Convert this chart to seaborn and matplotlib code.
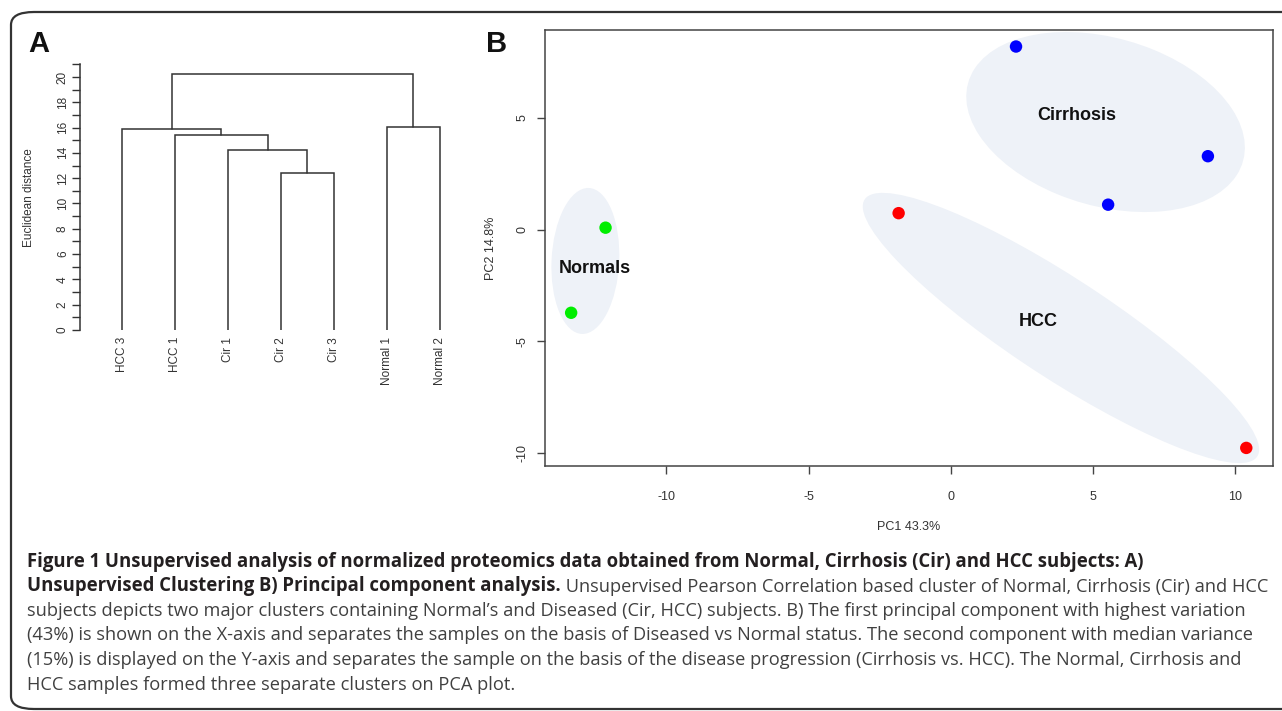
import numpy as np
import pandas as pd
import matplotlib
matplotlib.use("Agg")
import matplotlib.pyplot as plt
import seaborn as sns
from matplotlib.patches import Ellipse, FancyBboxPatch

# ---------------- data ----------------
leaf_labels = ["HCC 3", "HCC 1", "Cir 1", "Cir 2", "Cir 3", "Normal 1", "Normal 2"]
# linkage: (child a, child b, height); leaves 0..6, new nodes 7..
merge_a = [3, 2, 1, 0, 5, 10]
merge_b = [4, 7, 8, 9, 6, 11]
merge_h = [12.37, 14.25, 15.41, 15.86, 16.02, 20.21]
dist_ticks = list(range(0, 22))

sample_group = ["Cirrhosis", "Cirrhosis", "Cirrhosis", "HCC", "HCC", "Normals", "Normals"]
pc1 = [2.30, 9.05, 5.54, -1.83, 10.40, -12.14, -13.35]
pc2 = [8.20, 3.29, 1.12, 0.74, -9.77, 0.09, -3.72]
group_colors = {"Cirrhosis": "#0000FF", "HCC": "#FF0000", "Normals": "#00EE00"}

# cluster ellipses: centre x, centre y, width, height, angle (data units)
ell_name = ["Cirrhosis", "HCC", "Normals"]
ell_cx = [5.45, 3.88, -12.85]
ell_cy = [4.82, -4.40, -1.40]
ell_w = [10.38, 18.0, 2.38]
ell_h = [7.30, 4.1, 6.54]
ell_ang = [-27.6, -40.5, -2.0]
lab_x = [4.43, 3.07, -12.51]
lab_y = [5.09, -4.10, -1.76]

pc_xticks = [-10, -5, 0, 5, 10]
pc_yticks = [-10, -5, 0, 5]

caption_bold_1 = "Figure 1 Unsupervised analysis of normalized proteomics data obtained from Normal, Cirrhosis (Cir) and HCC subjects: A)"
caption_bold_2 = "Unsupervised Clustering B) Principal component analysis."
caption_reg_2 = " Unsupervised Pearson Correlation based cluster of Normal, Cirrhosis (Cir) and HCC"
caption_rest = [
    "subjects depicts two major clusters containing Normal\u2019s and Diseased (Cir, HCC) subjects. B) The first principal component with highest variation",
    "(43%) is shown on the X-axis and separates the samples on the basis of Diseased vs Normal status. The second component with median variance",
    "(15%) is displayed on the Y-axis and separates the sample on the basis of the disease progression (Cirrhosis vs. HCC). The Normal, Cirrhosis and",
    "HCC samples formed three separate clusters on PCA plot.",
]

# ---------------- figure ----------------
sns.set_style("white")
plt.rcParams["font.family"] = ["Liberation Sans", "DejaVu Sans"]

W, H = 1282, 711
fig = plt.figure(figsize=(W / 100, H / 100), dpi=100)


def px_axes(l, t, r, b):
    return fig.add_axes([l / W, 1 - b / H, (r - l) / W, (b - t) / H])


# border
border = FancyBboxPatch((11 / W, 1 - 709 / H), (1320 - 11) / W, (709 - 12) / H,
                        boxstyle="round,pad=0,rounding_size=0.018",
                        transform=fig.transFigure, fill=False,
                        edgecolor="#333333", linewidth=1.6, zorder=0)
fig.patches.append(border)

# ---------- Panel A : dendrogram ----------
axA = px_axes(80, 64.3, 460, 330)
node_x = {i: float(i) for i in range(len(leaf_labels))}
node_h = {i: 0.0 for i in range(len(leaf_labels))}
lc = "#333333"
for k, (a, b, h) in enumerate(zip(merge_a, merge_b, merge_h)):
    xa, xb = node_x[a], node_x[b]
    axA.plot([xa, xa, xb, xb], [node_h[a], h, h, node_h[b]], color=lc, lw=1.1,
             solid_joinstyle="miter")
    nid = len(leaf_labels) + k
    node_x[nid] = (xa + xb) / 2
    node_h[nid] = h
axA.set_xlim(-0.79, 6.38)
axA.set_ylim(0, 21)
for s in ["top", "right", "bottom"]:
    axA.spines[s].set_visible(False)
axA.spines["left"].set_color(lc)
axA.spines["left"].set_linewidth(1.1)
axA.set_yticks(dist_ticks)
axA.set_yticklabels([str(t) if t % 2 == 0 and t <= 20 else "" for t in dist_ticks],
                    rotation=90, va="center", fontsize=8.5, color="#333333")
axA.tick_params(axis="y", length=6, width=1.0, color=lc, pad=2, left=True)
axA.set_xticks(range(len(leaf_labels)))
axA.set_xticklabels(leaf_labels, rotation=90, fontsize=8.5, color="#333333")
axA.tick_params(axis="x", length=0, pad=5)
axA.set_ylabel("Euclidean distance", fontsize=8.5, color="#333333")
axA.yaxis.set_label_coords(-0.118, 0.5)
axA.patch.set_alpha(0)

fig.text(28 / W, 1 - 52 / H, "A", fontsize=21, fontweight="bold", color="#111111",
         ha="left", va="baseline")
fig.text(486 / W, 1 - 52 / H, "B", fontsize=21, fontweight="bold", color="#111111",
         ha="left", va="baseline")

# ---------- Panel B : PCA ----------
axB = px_axes(545, 30, 1273, 466)
for n, cx, cy, w, h, ang in zip(ell_name, ell_cx, ell_cy, ell_w, ell_h, ell_ang):
    axB.add_patch(Ellipse((cx, cy), w, h, angle=ang, facecolor="#EEF2F8",
                          edgecolor="none", zorder=1))
df = pd.DataFrame({"PC1": pc1, "PC2": pc2, "group": sample_group})
sns.scatterplot(data=df, x="PC1", y="PC2", hue="group", palette=group_colors,
                s=80, edgecolor="none", legend=False, ax=axB, zorder=3)
for n, x, y in zip(ell_name, lab_x, lab_y):
    axB.text(x, y, n, fontsize=13, fontweight="bold", color="#111111",
             ha="center", va="center", zorder=4)
axB.set_xlim(-14.27, 11.34)
axB.set_ylim(-10.58, 8.94)
axB.set_xticks(pc_xticks)
axB.set_xticklabels([str(t) for t in pc_xticks], fontsize=9, color="#333333")
axB.set_yticks(pc_yticks)
axB.set_yticklabels([str(t) for t in pc_yticks], fontsize=9, color="#333333",
                    rotation=90, va="center")
axB.tick_params(axis="x", length=6, width=1, color="#444444", pad=12, bottom=True)
axB.tick_params(axis="y", length=6, width=1, color="#444444", pad=6, left=True)
for s in axB.spines.values():
    s.set_color("#444444")
    s.set_linewidth(1.1)
axB.set_xlabel("PC1 43.3%", fontsize=9, color="#333333")
axB.set_ylabel("PC2 14.8%", fontsize=9, color="#333333")
axB.xaxis.set_label_coords(0.5, -(521 - 466) / (466 - 30))
axB.yaxis.set_label_coords(-(545 - 497) / (1273 - 545), 0.5)

# ---------- caption ----------
cap_font = ["Open Sans", "DejaVu Sans"]
renderer = fig.canvas.get_renderer()


def text_w(s, bold=False):
    t = fig.text(0, 0, s, fontsize=10, family=cap_font,
                 fontweight="bold" if bold else "normal")
    w = t.get_window_extent(renderer).width
    t.remove()
    return w


x_left = 27
# regular size: fit the full-width lines to their right edges in the reference
fs_reg = min(10 * (1272 - x_left) / text_w(caption_rest[0]),
             10 * (1274 - x_left) / text_w(caption_rest[1]),
             10 * (1251 - x_left) / text_w(caption_rest[2]))
fs_bold = 10 * (1152 - x_left) / text_w(caption_bold_1, True)
w2 = text_w(caption_bold_2, True) * fs_bold / 10 + text_w(caption_reg_2) * fs_reg / 10
if w2 > 1267 - x_left:
    k = (1267 - x_left) / w2
    fs_reg *= k
    fs_bold *= k

baselines = [567, 591.5, 616, 640.5, 665, 689.5]
x0 = x_left / W
fig.text(x0, 1 - baselines[0] / H, caption_bold_1, fontsize=fs_bold, fontweight="bold",
         family=cap_font, color="#231F20", va="baseline")
tb = fig.text(x0, 1 - baselines[1] / H, caption_bold_2, fontsize=fs_bold, fontweight="bold",
              family=cap_font, color="#231F20", va="baseline")
bb = tb.get_window_extent(renderer)
fig.text(bb.x1 / W, 1 - baselines[1] / H, caption_reg_2, fontsize=fs_reg,
         family=cap_font, color="#404040", va="baseline")
for line, yb in zip(caption_rest, baselines[2:]):
    fig.text(x0, 1 - yb / H, line, fontsize=fs_reg, family=cap_font, color="#404040",
             va="baseline")

fig.savefig("out.png", dpi=100)
